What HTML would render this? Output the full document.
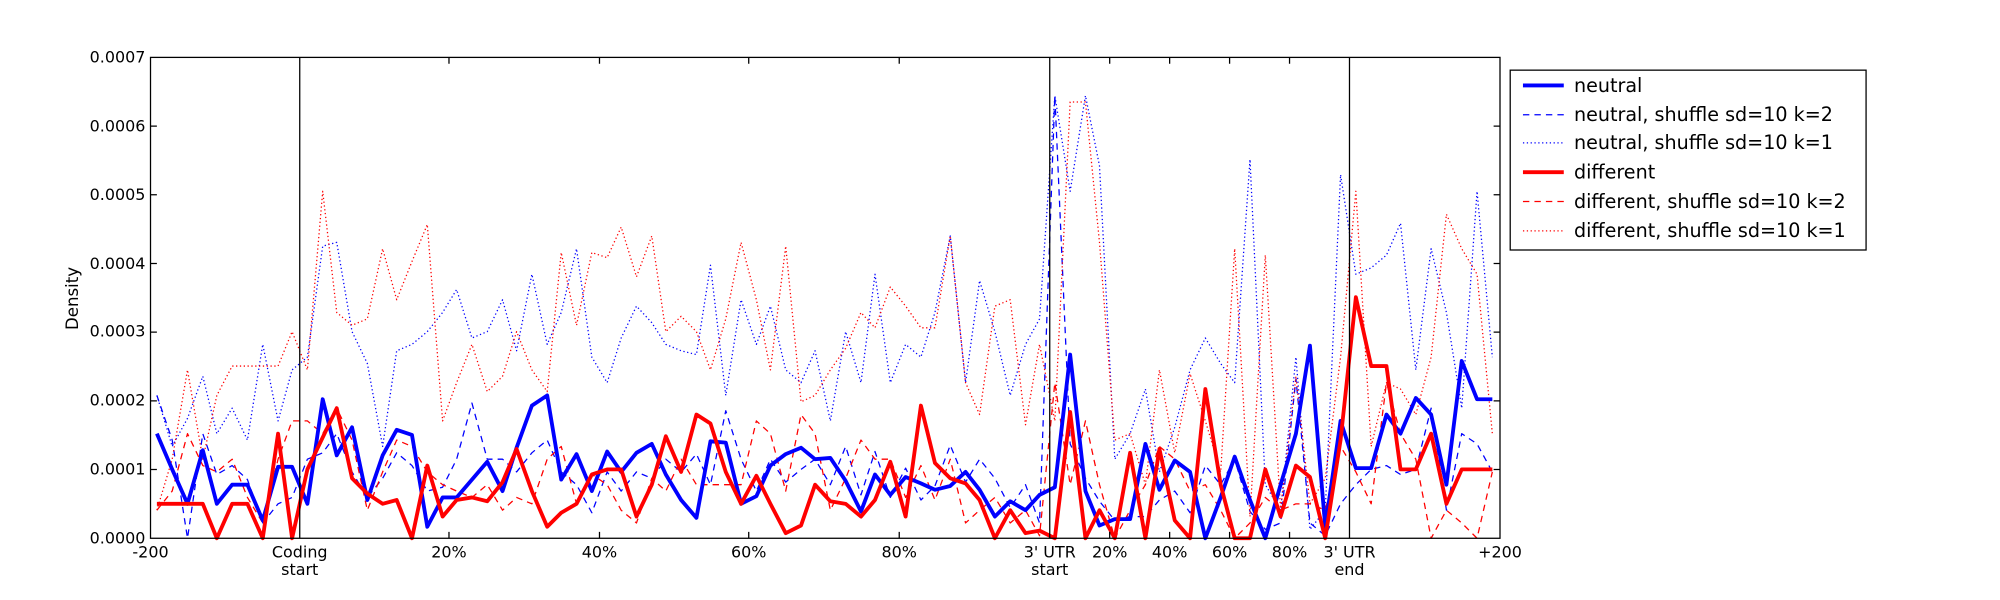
<!DOCTYPE html>
<html><head><meta charset="utf-8"><style>html,body{margin:0;padding:0;background:#fff}svg{display:block}</style></head>
<body>
<svg width="2000" height="600" viewBox="0 0 1568 470.4" preserveAspectRatio="none" xmlns="http://www.w3.org/2000/svg" font-family="DejaVu Sans, Liberation Sans, sans-serif">
<rect width="1568" height="471" fill="#fff"/>
<g fill="none" stroke-linejoin="round">
<polyline stroke="#00f" stroke-width="1" stroke-dasharray="5,4" points="123,310 135,345 147,422 159,340 170,372 182,365 194,376 206,410 218,395 229,390 241,360 253,355 264,340 276,370 288,390 300,375 311,355 323,365 335,385 347,382 358,360 370,316 382,360 394,360 405,370 417,355 429,345 440,370 452,380 464,402 476,370 487,385 499,370 511,375 522,360 534,370 546,356 557,380 569,322 581,360 593,385 604,360 616,378 628,368 639,360 651,380 663,350 675,388 686,354 698,390 710,367 722,392 733,381 745,349 757,378 768,360 780,375 792,398 804,380 815,410 827,75 839,348 851,375 862,393 874,408 886,405 898,405 909,392 921,385 933,402 945,365 957,380 968,360 980,401 992,415 1004,410 1016,297 1027,410 1039,420 1051,395 1063,380 1075,368 1087,365 1098,372 1110,368 1122,320 1134,400 1146,340 1158,348 1170,370"/>
<polyline stroke="#00f" stroke-width="1" stroke-dasharray="1,2" points="123,310 135,350 147,328 159,295 170,340 182,320 194,345 206,270 218,330 229,290 241,280 253,193 264,190 276,260 288,285 300,350 311,275 323,270 335,260 347,245 358,227 370,265 382,260 394,235 405,275 417,215 429,270 440,245 452,195 464,280 476,300 487,265 499,240 511,253 522,270 534,275 546,278 557,208 569,310 581,235 593,270 604,240 616,290 628,300 639,275 651,330 663,260 675,300 686,215 698,300 710,270 722,280 733,245 745,185 757,300 768,220 780,260 792,310 804,270 815,250 827,75 839,150 851,75 862,130 874,360 886,340 898,305 909,370 921,335 933,290 945,265 957,285 968,300 980,125 992,380 1004,400 1016,280 1027,415 1039,400 1051,137 1063,215 1075,210 1087,200 1098,175 1110,290 1122,195 1134,245 1146,320 1158,150 1170,280"/>
<polyline stroke="#f00" stroke-width="1" stroke-dasharray="5,4" points="123,400 135,385 147,340 159,365 170,370 182,360 194,390 206,410 218,360 229,330 241,330 253,340 264,320 276,345 288,400 300,370 311,345 323,350 335,370 347,380 358,385 370,390 382,380 394,400 405,390 417,395 429,360 440,350 452,395 464,372 476,380 487,400 499,410 511,375 522,385 534,360 546,380 557,380 569,380 581,380 593,330 604,340 616,385 628,325 639,340 651,400 663,375 675,345 686,360 698,360 710,390 722,365 733,392 745,360 757,410 768,400 780,390 792,410 804,400 815,420 827,300 839,380 851,330 862,380 874,422 886,400 898,380 909,350 921,360 933,385 945,380 957,400 968,422 980,410 992,390 1004,400 1016,395 1027,395 1039,400 1051,350 1063,370 1075,395 1087,300 1098,340 1110,360 1122,422 1134,400 1146,410 1158,422 1170,370"/>
<polyline stroke="#f00" stroke-width="1" stroke-dasharray="1,2" points="123,400 135,360 147,290 159,360 170,310 182,287 194,287 206,287 218,287 229,260 241,290 253,150 264,245 276,255 288,250 300,195 311,235 323,205 335,176 347,330 358,300 370,270 382,307 394,295 405,260 417,290 429,307 440,198 452,255 464,198 476,202 487,178 499,217 511,185 522,260 534,248 546,260 557,290 569,250 581,190 593,235 604,290 616,193 628,315 639,310 651,290 663,273 675,245 686,257 698,225 710,240 722,257 733,257 745,185 757,300 768,325 780,240 792,235 804,333 815,270 827,330 839,80 851,80 862,190 874,345 886,340 898,380 909,290 921,355 933,293 945,330 957,370 968,195 980,405 992,200 1004,400 1016,295 1027,395 1039,375 1051,280 1063,150 1075,350 1087,300 1098,305 1110,325 1122,280 1134,168 1146,195 1158,215 1170,340"/>
<polyline stroke="#00f" stroke-width="3" points="123,340 135,368 147,395 159,353 170,395 182,380 194,380 206,408 218,366 229,366 241,395 253,313 264,357 276,335 288,392 300,357 311,337 323,341 335,413 347,390 358,390 370,376 382,362 394,385 405,351 417,318 429,310 440,376 452,356 464,385 476,354 487,370 499,355 511,348 522,372 534,392 546,406 557,346 569,347 581,395 593,389 604,365 616,356 628,351 639,360 651,359 663,377 675,401 686,372 698,388 710,374 722,379 733,384 745,381 757,370 768,384 780,405 792,393 804,400 815,388 827,382 839,278 851,385 862,412 874,407 886,407 898,348 909,384 921,361 933,370 945,422 957,390 968,358 980,392 992,422 1004,380 1016,340 1027,271 1039,413 1051,330 1063,367 1075,367 1087,325 1098,340 1110,312 1122,325 1134,380 1146,283 1158,313 1170,313"/>
<polyline stroke="#f00" stroke-width="3" points="123,395 135,395 147,395 159,395 170,422 182,395 194,395 206,422 218,340 229,422 241,368 264,320 276,375 288,387 300,395 311,392 323,422 335,365 347,405 358,392 370,390 382,393 394,378 405,352 417,385 429,413 440,402 452,395 464,372 476,368 487,368 499,405 511,380 522,342 534,370 546,325 557,332 569,370 581,395 593,373 604,395 616,418 628,412 639,380 651,393 663,395 675,405 686,392 698,362 710,405 722,318 733,363 745,375 757,379 768,392 780,422 792,400 804,418 815,416 827,422 839,323 851,422 862,400 874,422 886,355 898,422 909,352 921,408 933,422 945,305 957,380 968,422 980,422 992,368 1004,405 1016,365 1027,374 1039,422 1051,345 1063,233 1075,287 1087,287 1098,368 1110,368 1122,340 1134,395 1146,368 1158,368 1170,368"/>
</g>
<g stroke="#000" stroke-width="1">
<line x1="235" y1="45" x2="235" y2="422"/><line x1="823" y1="45" x2="823" y2="422"/><line x1="1058" y1="45" x2="1058" y2="422"/>
<rect x="118" y="45" width="1058" height="377" fill="none"/>
<path d="M118,368.1h5M118,314.3h5M118,260.4h5M118,206.6h5M118,152.7h5M118,98.9h5M1176,368.1h-5M1176,314.3h-5M1176,260.4h-5M1176,206.6h-5M1176,152.7h-5M1176,98.9h-5"/>
<path d="M352,422v-5M470,422v-5M587,422v-5M705,422v-5M870,422v-5M917,422v-5M964,422v-5M1011,422v-5M352,45v5M470,45v5M587,45v5M705,45v5M870,45v5M917,45v5M964,45v5M1011,45v5"/>
</g>
<g font-size="12.5" fill="#000" text-anchor="end">
<text x="114" y="426">0.0000</text><text x="114" y="372">0.0001</text><text x="114" y="318">0.0002</text><text x="114" y="264">0.0003</text><text x="114" y="211">0.0004</text><text x="114" y="157">0.0005</text><text x="114" y="103">0.0006</text><text x="114" y="49">0.0007</text>
</g>
<g font-size="12.5" fill="#000" text-anchor="middle">
<text x="118" y="437">-200</text><text x="235" y="437">Coding</text><text x="235" y="451">start</text><text x="352" y="437">20%</text><text x="470" y="437">40%</text><text x="587" y="437">60%</text><text x="705" y="437">80%</text><text x="823" y="437">3' UTR</text><text x="823" y="451">start</text><text x="870" y="437">20%</text><text x="917" y="437">40%</text><text x="964" y="437">60%</text><text x="1011" y="437">80%</text><text x="1058" y="437">3' UTR</text><text x="1058" y="451">end</text><text x="1176" y="437">+200</text>
<text transform="translate(61,234) rotate(-90)" font-size="13">Density</text>
</g>
<rect x="1184" y="55" width="279" height="141" fill="#fff" stroke="#000" stroke-width="1"/>
<g stroke-width="1">
<line x1="1194" y1="67" x2="1226" y2="67" stroke="#00f" stroke-width="3"/>
<line x1="1194" y1="90" x2="1226" y2="90" stroke="#00f" stroke-dasharray="5,4"/>
<line x1="1194" y1="112" x2="1226" y2="112" stroke="#00f" stroke-dasharray="1,2"/>
<line x1="1194" y1="135" x2="1226" y2="135" stroke="#f00" stroke-width="3"/>
<line x1="1194" y1="158" x2="1226" y2="158" stroke="#f00" stroke-dasharray="5,4"/>
<line x1="1194" y1="181" x2="1226" y2="181" stroke="#f00" stroke-dasharray="1,2"/>
</g>
<g font-size="15" fill="#000">
<text x="1234" y="72">neutral</text><text x="1234" y="95">neutral, shuffle sd=10 k=2</text><text x="1234" y="117">neutral, shuffle sd=10 k=1</text><text x="1234" y="140">different</text><text x="1234" y="163">different, shuffle sd=10 k=2</text><text x="1234" y="186">different, shuffle sd=10 k=1</text>
</g>
</svg>
</body></html>
